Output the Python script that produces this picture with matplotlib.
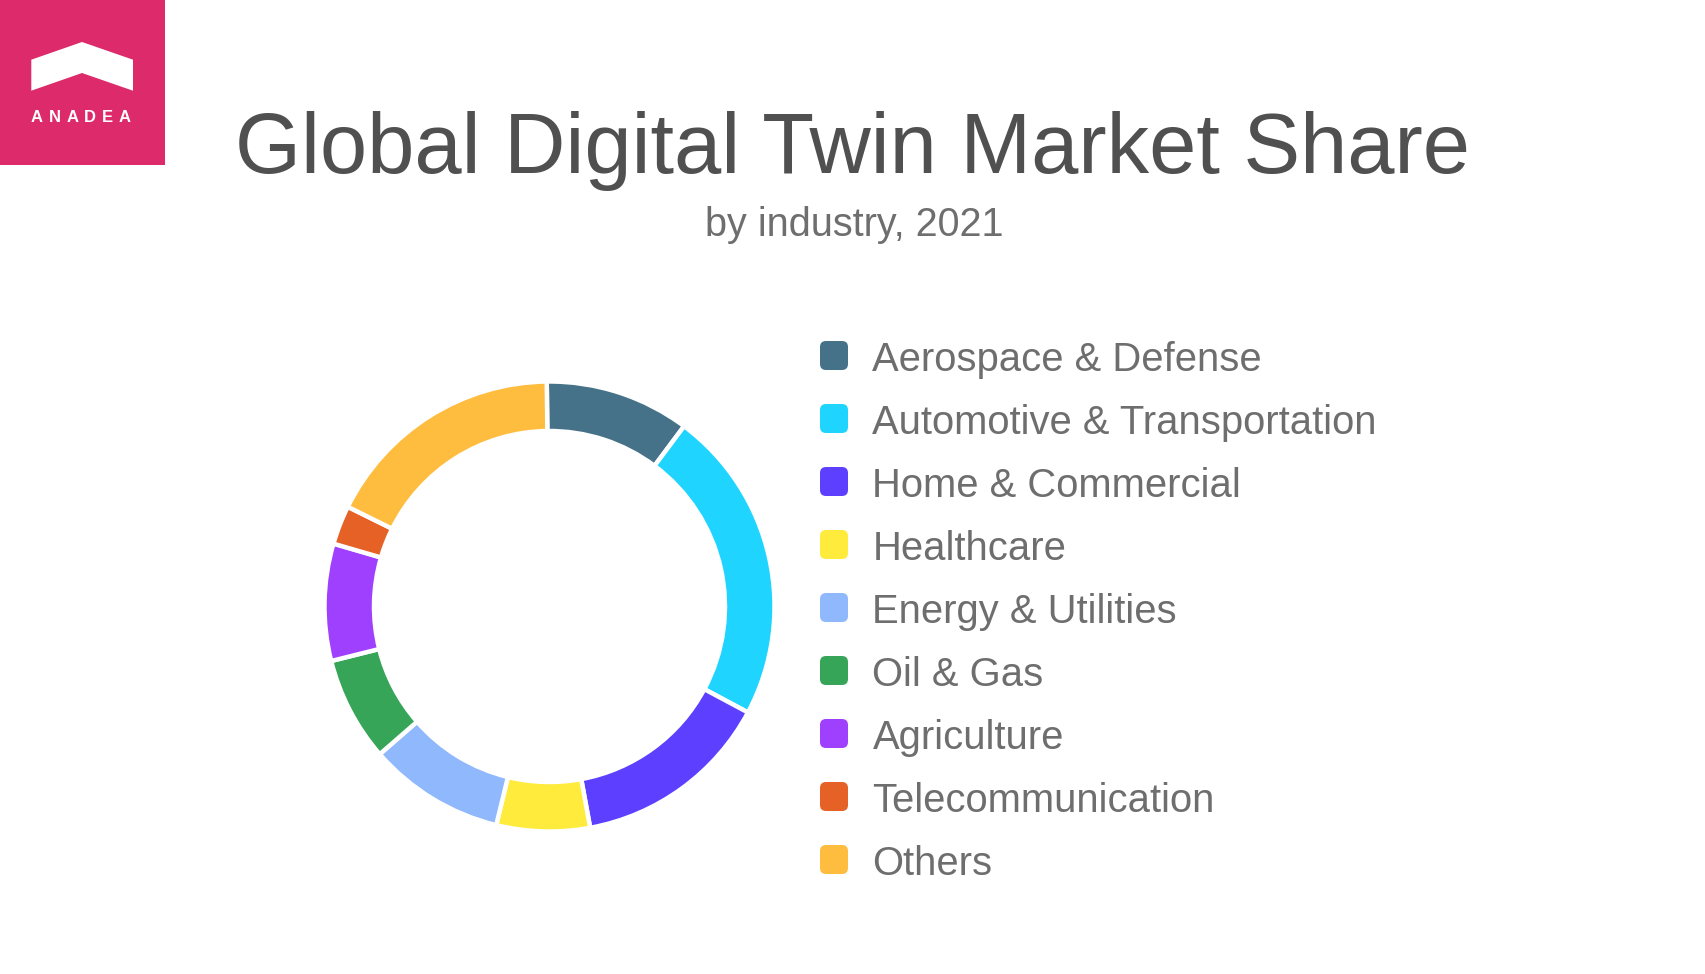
import matplotlib
matplotlib.use("Agg")
import matplotlib.pyplot as plt
from matplotlib.patches import FancyBboxPatch, Polygon, Rectangle

# share of market by industry (percent)
industries = ["Aerospace & Defense", "Automotive & Transportation", "Home & Commercial",
              "Healthcare", "Energy & Utilities", "Oil & Gas", "Agriculture",
              "Telecommunication", "Others"]
shares = [10.4, 22.6, 14.3, 6.7, 9.8, 7.5, 8.4, 2.8, 17.5]
colors = ["#467289", "#1FD5FF", "#5D40FF", "#FFEB3B", "#90B8FC",
          "#37A558", "#A040FF", "#E56125", "#FFBD40"]

title = "Global Digital Twin Market Share"
subtitle = "by industry, 2021"
logo_text = "ANADEA"

W, H = 1706, 974
plt.rcParams["font.family"] = ["Liberation Sans", "DejaVu Sans"]

fig = plt.figure(figsize=(W / 100, H / 100), dpi=100, facecolor="white")

# background axes in pixel coordinates for logo, titles and legend
bg = fig.add_axes([0, 0, 1, 1])
bg.set_xlim(0, W)
bg.set_ylim(H, 0)
bg.axis("off")

# logo
bg.add_patch(Rectangle((0, 0), 165, 165, facecolor="#DD2A6B", edgecolor="none"))
bg.add_patch(Polygon([(31.3, 59.7), (82, 42), (133, 59.7), (133, 90.7), (82, 73), (31.3, 90.7)],
                     closed=True, facecolor="white", edgecolor="none"))
for i, letter in enumerate(logo_text):
    bg.text(37 + i * 17.6, 122.5, letter, color="white", fontsize=12, fontweight="bold",
            ha="center", va="baseline")

bg.text(853, 173, title, color="#505050", fontsize=61.1, ha="center", va="baseline")
bg.text(854, 236.5, subtitle, color="#6E6E6E", fontsize=28.5, ha="center", va="baseline")

# legend
for i, (name, col) in enumerate(zip(industries, colors)):
    yc = 355.5 + 63 * i
    bg.add_patch(FancyBboxPatch((826, yc - 8.5), 16, 17, boxstyle="round,pad=6,rounding_size=6",
                                facecolor=col, edgecolor="none"))
    bg.text(872.5, 371 + 63 * i, name, color="#6E6E6E", fontsize=28.8, ha="left", va="baseline")

# ring, first slice starts just left of twelve o'clock
cx, cy, r = 549.5, 606.5, 225
ax = fig.add_axes([(cx - r) / W, 1 - (cy + r) / H, 2 * r / W, 2 * r / H])
ax.pie(shares, colors=colors, startangle=90.7, counterclock=False, radius=1,
       wedgeprops=dict(width=0.22, edgecolor="white", linewidth=3.2))
ax.set_xlim(-1, 1)
ax.set_ylim(-1, 1)
ax.set_aspect("auto")

fig.savefig("out.png", dpi=100, facecolor="white")
